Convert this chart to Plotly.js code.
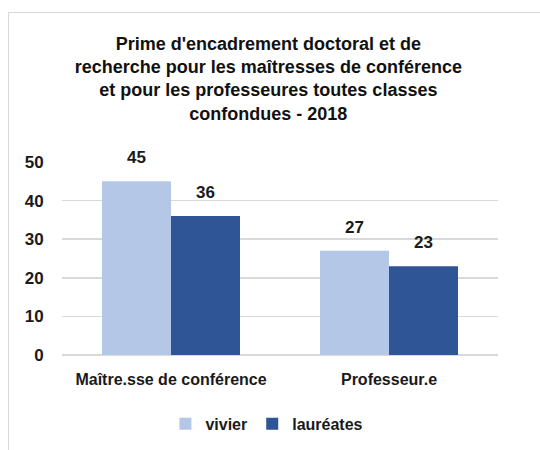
<!DOCTYPE html>
<html><head><meta charset="utf-8">
<script src="https://cdn.plot.ly/plotly-3.0.1.min.js"></script>
<style>
body{margin:0;background:#fff;}
#frame{position:absolute;left:8px;top:12px;width:600px;height:500px;border-left:1.5px solid #d9d9d9;border-top:1.5px solid #d9d9d9;}
#chart{position:absolute;left:0;top:0;width:540px;height:450px;}
</style></head>
<body>
<div id="frame"></div>
<div id="chart"></div>
<script>
const categories = ["Maître.sse de conférence", "Professeur.e"];
const vivier = [45, 27];
const laureates = [36, 23];
const seriesNames = ["vivier", "lauréates"];
const titleText = "Prime d'encadrement doctoral et de<br>recherche pour les maîtresses de conférence<br>et pour les professeures toutes classes<br>confondues - 2018";

const FONT = "Liberation Sans, Arial, sans-serif";
const colors = ["#b4c7e7", "#2f5597"];

const traces = [
  {type:"bar", name:seriesNames[0], x:categories, y:vivier, marker:{color:colors[0]}, hoverinfo:"skip"},
  {type:"bar", name:seriesNames[1], x:categories, y:laureates, marker:{color:colors[1]}, hoverinfo:"skip"}
];

const annotations = [];
[vivier, laureates].forEach((vals, si) => {
  vals.forEach((v, i) => {
    annotations.push({x:categories[i], y:v, xref:"x", yref:"y", text:String(v), showarrow:false,
      xshift: si===0 ? -34.5 : 34.5, yshift: 12, yanchor:"bottom",
      font:{family:FONT, size:17, color:"#1a1a1a", weight:"bold"}});
  });
});

const layout = {
  width:540, height:450,
  margin:{l:62, r:42, t:162, b:95, autoexpand:false},
  paper_bgcolor:"rgba(0,0,0,0)", plot_bgcolor:"rgba(0,0,0,0)",
  title:{text:titleText, x:0.497, xanchor:"center", y:0.89, yanchor:"top",
    font:{family:FONT, size:18, color:"#111", weight:"bold"}},
  barmode:"group", bargap:0.367, bargroupgap:0,
  xaxis:{type:"category", showgrid:false, zeroline:false, showline:false,
    ticks:"outside", ticklen:10, tickcolor:"rgba(0,0,0,0)",
    tickfont:{family:FONT, size:16, color:"#1a1a1a", weight:"bold"}},
  yaxis:{range:[0,50], dtick:10, showgrid:true, gridcolor:"#d9d9d9", gridwidth:1.5,
    zeroline:true, zerolinecolor:"#d9d9d9", zerolinewidth:1.5, showline:false,
    ticks:"outside", ticklen:14, tickcolor:"rgba(0,0,0,0)",
    tickfont:{family:FONT, size:17, color:"#1a1a1a", weight:"bold"}},
  showlegend:true,
  legend:{orientation:"h", x:0.47, xanchor:"center", yref:"container", y:0.058, yanchor:"middle",
    font:{family:FONT, size:16, color:"#1a1a1a", weight:"bold"}, itemwidth:30},
  annotations:annotations
};

Plotly.newPlot("chart", traces, layout, {displayModeBar:false, staticPlot:true});
</script>
</body></html>
